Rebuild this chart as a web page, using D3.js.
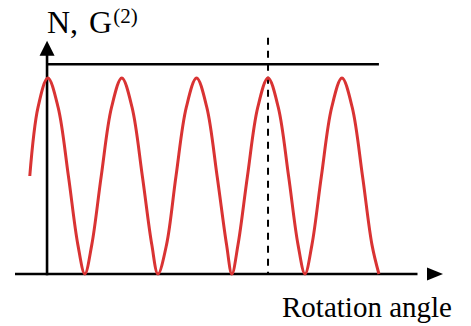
<!DOCTYPE html>
<html>
<head>
<meta charset="utf-8">
<script src="https://cdn.jsdelivr.net/npm/d3@7"></script>
</head>
<body style="margin:0">
<script>
// Data (angle in degrees, signal normalised 0..1)
const angles = [-21,-11,1,13.5,26,37.5,46,54.5,66,78.5,91,103.5,116,127.5,135,145.5,157,169.5,182,194.5,207,218.5,225,232.5,244,256.5,269,281.5,294,305.5,314,322.5,334,346.5,359,371.5,384,395.5,404];
const g2Values = [0.5,0.85,1,0.85,0.5,0.15,0,0.15,0.5,0.85,1,0.85,0.5,0.15,0,0.15,0.5,0.85,1,0.85,0.5,0.15,0,0.15,0.5,0.85,1,0.85,0.5,0.15,0,0.15,0.5,0.85,1,0.85,0.5,0.15,0];
const nLevel = [1.07];
const nLineRange = [0, 404];
const markerAngle = [269];
const yAxisLabel = ["N, G", "(2)"];
const xAxisLabel = ["Rotation angle"];

const W = 471, H = 326;
const svg = d3.select("body").append("svg").attr("width", W).attr("height", H)
  .style("display", "block");

const x = d3.scaleLinear().domain([-39, 482]).range([15, 443]);
const y = d3.scaleLinear().domain([0, 1]).range([274, 78]);
const yTop = 1.19;

svg.append("line")
  .attr("x1", x(markerAngle[0])).attr("x2", x(markerAngle[0]))
  .attr("y1", y(1.205)).attr("y2", y(0))
  .attr("stroke", "#000").attr("stroke-width", 2)
  .attr("stroke-dasharray", "7,6");

svg.append("line")
  .attr("x1", x(nLineRange[0]) ).attr("x2", x(nLineRange[1]))
  .attr("y1", y(nLevel[0])).attr("y2", y(nLevel[0]))
  .attr("stroke", "#000").attr("stroke-width", 2.6);

svg.append("line")
  .attr("x1", x(-39)).attr("x2", x(468) - 14)
  .attr("y1", y(0)).attr("y2", y(0))
  .attr("stroke", "#000").attr("stroke-width", 2.6);
svg.append("path")
  .attr("d", `M${x(482)},${y(0)} L${x(482)-16},${y(0)-6.5} L${x(482)-16},${y(0)+6.5} Z`)
  .attr("fill", "#000");

svg.append("line")
  .attr("x1", x(0)).attr("x2", x(0))
  .attr("y1", y(0) + 1.3).attr("y2", y(yTop) + 12)
  .attr("stroke", "#000").attr("stroke-width", 2.6);
svg.append("path")
  .attr("d", `M${x(0)},${y(yTop)} L${x(0)-7.5},${y(yTop)+15} L${x(0)+7.5},${y(yTop)+15} Z`)
  .attr("fill", "#000");

const line = d3.line()
  .x((d, i) => x(angles[i]))
  .y(d => y(d))
  .curve(d3.curveCatmullRom.alpha(0.5));
svg.append("path")
  .datum(g2Values)
  .attr("d", line)
  .attr("fill", "none")
  .attr("stroke", "#d93333")
  .attr("stroke-width", 3);

// labels
const labels = [
  {t: xAxisLabel[0], x: 282, y: 317, s: 29}
];
svg.selectAll("text.xl").data(labels).join("text").attr("class", "xl")
  .attr("x", d => d.x).attr("y", d => d.y)
  .attr("font-size", d => d.s)
  .style("font-family", d => `"Liberation Serif"`)
  .text(d => d.t);

const t = svg.append("text").attr("x", 47).attr("y", 33)
  .attr("font-size", 32)
  .style("word-spacing", "3px")
  .style("font-family", d => `"Liberation Serif"`);
t.append("tspan").text(yAxisLabel[0]);
t.append("tspan").attr("dx", 1).attr("dy", -10).attr("font-size", 21).text(yAxisLabel[1]);
</script>
</body>
</html>
